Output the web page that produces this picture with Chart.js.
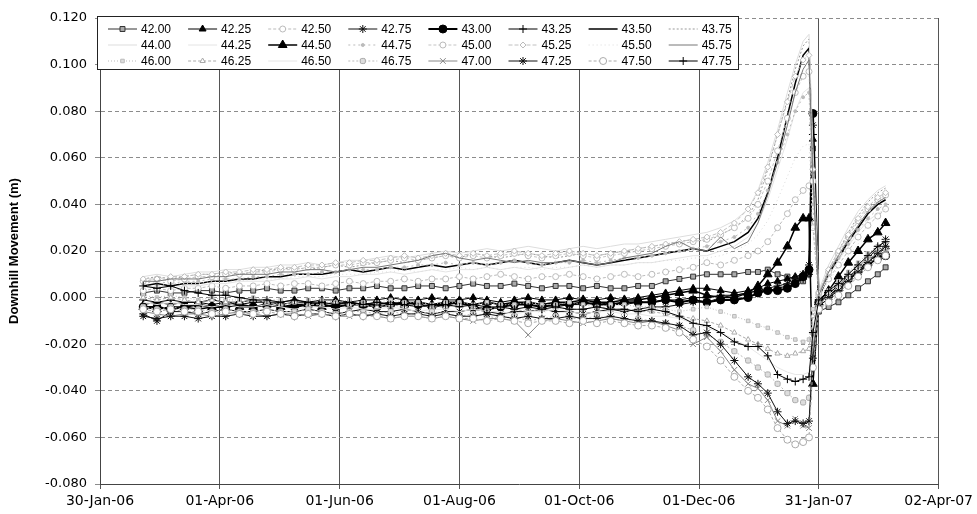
<!DOCTYPE html>
<html>
<head>
<meta charset="utf-8">
<title>Downhill Movement</title>
<script src="https://cdn.jsdelivr.net/npm/chart.js@4/dist/chart.umd.min.js"></script>
<style>
  html, body { margin: 0; padding: 0; background: #fff; }
  canvas { display: block; }
</style>
</head>
<body>
<canvas id="movementChart" width="977" height="514"></canvas>
<script>
// Survey dates (x categories)
const sampleDates = [
    '2006-02-21','2006-02-28','2006-03-07','2006-03-14','2006-03-21','2006-03-28','2006-04-04','2006-04-11','2006-04-18','2006-04-25',
    '2006-05-02','2006-05-09','2006-05-16','2006-05-23','2006-05-30','2006-06-06','2006-06-13','2006-06-20','2006-06-27','2006-07-04',
    '2006-07-11','2006-07-18','2006-07-25','2006-08-01','2006-08-08','2006-08-15','2006-08-22','2006-08-29','2006-09-05','2006-09-12',
    '2006-09-19','2006-09-26','2006-10-03','2006-10-10','2006-10-17','2006-10-24','2006-10-31','2006-11-07','2006-11-14',
    '2006-11-21','2006-11-28','2006-12-05','2006-12-12','2006-12-19','2006-12-26','2006-12-31','2007-01-05','2007-01-10','2007-01-15',
    '2007-01-19','2007-01-23','2007-01-26','2007-01-28','2007-01-31','2007-02-05','2007-02-10','2007-02-15','2007-02-20','2007-02-25',
    '2007-03-02','2007-03-06'
];

const axisStartDate = '2006-01-30';
const tickLabels = ['30-Jan-06', '01-Apr-06', '01-Jun-06', '01-Aug-06', '01-Oct-06', '01-Dec-06', '31-Jan-07', '02-Apr-07'];
const yTicks = { min: -0.08, max: 0.12, step: 0.02 };

const seriesLabels = ['42.00','42.25','42.50','42.75','43.00','43.25','43.50','43.75',
                      '44.00','44.25','44.50','44.75','45.00','45.25','45.50','45.75',
                      '46.00','46.25','46.50','46.75','47.00','47.25','47.50','47.75'];

// Downhill movement (m) per series
const s4200 = [0.002,0.003,0.002,0.002,0.003,0.003,0.002,0.003,0.003,0.004,0.003,0.003,0.004,0.004,0.003,0.004,0.004,0.005,0.004,0.004,0.005,0.005,0.004,0.005,0.006,0.005,0.005,0.006,0.005,0.004,0.005,0.005,0.004,0.005,0.004,0.004,0.005,0.005,0.007,
               0.008,0.009,0.010,0.010,0.010,0.011,0.011,0.012,0.010,0.009,0.008,0.007,0.010,0.064,-0.006,-0.004,-0.002,0.001,0.004,0.007,0.010,0.013];
const s4225 = [-0.003,-0.002,-0.003,-0.002,-0.002,-0.003,-0.002,-0.002,-0.001,-0.002,-0.002,-0.001,-0.002,-0.001,-0.001,-0.002,-0.001,-0.001,0.000,-0.001,-0.001,0.000,-0.001,-0.001,0.000,-0.001,-0.002,-0.001,0.000,-0.001,-0.001,0.000,-0.001,-0.001,0.000,-0.001,0.000,0.001,0.002,
               0.003,0.004,0.004,0.003,0.002,0.003,0.004,0.006,0.007,0.008,0.009,0.010,0.012,0.068,-0.004,0.000,0.004,0.008,0.012,0.015,0.019,0.022];
const s4250 = [0.003,0.004,0.003,0.004,0.004,0.005,0.004,0.005,0.005,0.006,0.005,0.006,0.006,0.005,0.006,0.007,0.006,0.007,0.007,0.008,0.007,0.008,0.008,0.009,0.008,0.009,0.010,0.009,0.008,0.009,0.009,0.010,0.009,0.008,0.009,0.010,0.009,0.010,0.011,
               0.012,0.013,0.015,0.014,0.016,0.018,0.020,0.024,0.030,0.036,0.042,0.046,0.048,0.030,0.001,0.008,0.014,0.020,0.026,0.031,0.035,0.038];
const s4275 = [-0.007,-0.010,-0.006,-0.006,-0.007,-0.006,-0.005,-0.006,-0.006,-0.005,-0.006,-0.006,-0.005,-0.006,-0.007,-0.006,-0.005,-0.006,-0.006,-0.005,-0.006,-0.007,-0.006,-0.006,-0.005,-0.006,-0.007,-0.006,-0.006,-0.005,-0.006,-0.006,-0.007,-0.006,-0.005,-0.006,-0.005,-0.004,-0.004,
               -0.003,-0.002,-0.002,0.000,0.001,0.002,0.003,0.004,0.005,0.006,0.008,0.010,0.014,0.074,-0.003,0.001,0.005,0.009,0.013,0.017,0.021,0.025];
const s4300 = [-0.004,-0.004,-0.005,-0.004,-0.003,-0.004,-0.004,-0.003,-0.004,-0.003,-0.004,-0.004,-0.003,-0.003,-0.004,-0.003,-0.003,-0.004,-0.003,-0.002,-0.003,-0.004,-0.003,-0.002,-0.004,-0.005,-0.004,-0.003,-0.003,-0.004,-0.003,-0.003,-0.002,-0.003,-0.003,-0.002,-0.002,-0.002,-0.001,
               -0.002,-0.001,-0.002,-0.001,-0.001,0.000,0.002,0.003,0.003,0.004,0.006,0.009,0.012,0.079,-0.002,0.001,0.004,0.008,0.011,0.014,0.017,0.018];
const s4325 = [-0.001,-0.002,-0.001,-0.002,-0.002,-0.001,-0.002,-0.003,-0.002,-0.002,-0.003,-0.002,-0.002,-0.003,-0.002,-0.002,-0.003,-0.002,-0.003,-0.002,-0.002,-0.003,-0.003,-0.002,-0.003,-0.002,-0.003,-0.003,-0.002,-0.003,-0.004,-0.003,-0.003,-0.002,-0.003,-0.003,-0.002,-0.002,-0.001,
               -0.001,0.000,0.000,0.001,0.001,0.002,0.003,0.003,0.004,0.005,0.006,0.008,0.010,0.070,-0.001,0.002,0.005,0.009,0.012,0.016,0.019,0.021];
const s4350 = [0.005,0.006,0.005,0.006,0.006,0.007,0.007,0.008,0.008,0.009,0.009,0.010,0.010,0.010,0.011,0.012,0.011,0.012,0.013,0.012,0.013,0.014,0.013,0.014,0.015,0.014,0.015,0.016,0.015,0.014,0.015,0.016,0.015,0.014,0.015,0.016,0.017,0.018,0.019,
               0.020,0.021,0.020,0.022,0.024,0.028,0.034,0.045,0.060,0.078,0.092,0.104,0.107,0.055,0.000,0.010,0.017,0.024,0.030,0.036,0.040,0.042];
const s4375 = [0.008,0.009,0.008,0.009,0.010,0.010,0.011,0.010,0.011,0.012,0.012,0.013,0.012,0.013,0.014,0.013,0.014,0.015,0.016,0.015,0.016,0.017,0.018,0.017,0.019,0.018,0.017,0.018,0.019,0.018,0.017,0.018,0.019,0.018,0.019,0.020,0.021,0.022,0.023,
               0.024,0.025,0.024,0.027,0.030,0.035,0.042,0.055,0.070,0.085,0.098,0.108,0.111,0.060,0.002,0.012,0.020,0.028,0.035,0.041,0.045,0.047];
const s4400 = [0.009,0.010,0.009,0.010,0.011,0.011,0.012,0.012,0.013,0.013,0.014,0.014,0.015,0.014,0.015,0.016,0.016,0.017,0.018,0.017,0.018,0.019,0.020,0.019,0.020,0.021,0.020,0.021,0.022,0.021,0.020,0.021,0.022,0.021,0.022,0.023,0.023,0.024,0.025,
               0.026,0.027,0.028,0.030,0.033,0.038,0.046,0.058,0.072,0.088,0.100,0.110,0.113,0.065,0.003,0.014,0.022,0.030,0.037,0.042,0.046,0.048];
const s4425 = [0.004,0.005,0.004,0.005,0.005,0.006,0.006,0.007,0.007,0.007,0.008,0.008,0.009,0.008,0.009,0.009,0.010,0.010,0.011,0.010,0.011,0.012,0.011,0.012,0.012,0.013,0.012,0.013,0.012,0.013,0.012,0.013,0.014,0.013,0.014,0.014,0.015,0.015,0.016,
               0.017,0.018,0.018,0.020,0.022,0.026,0.032,0.042,0.055,0.068,0.080,0.088,0.090,0.045,0.001,0.009,0.016,0.022,0.028,0.033,0.036,0.038];
const s4450 = [-0.004,-0.005,-0.004,-0.004,-0.005,-0.004,-0.003,-0.004,-0.004,-0.003,-0.004,-0.003,-0.003,-0.004,-0.003,-0.002,-0.003,-0.003,-0.002,-0.003,-0.002,-0.003,-0.002,-0.002,-0.003,-0.002,-0.003,-0.002,-0.002,-0.003,-0.002,-0.002,-0.001,-0.002,-0.002,-0.001,-0.001,0.000,0.001,
               0.002,0.003,0.001,0.000,0.000,0.002,0.005,0.010,0.015,0.022,0.030,0.034,0.034,-0.037,-0.002,0.003,0.009,0.015,0.020,0.025,0.028,0.032];
const s4475 = [0.006,0.007,0.006,0.007,0.007,0.008,0.008,0.008,0.009,0.009,0.010,0.010,0.010,0.011,0.011,0.012,0.012,0.012,0.013,0.013,0.014,0.014,0.015,0.014,0.015,0.014,0.015,0.016,0.015,0.014,0.015,0.015,0.016,0.015,0.016,0.017,0.017,0.018,0.019,
               0.020,0.021,0.022,0.024,0.026,0.030,0.036,0.046,0.058,0.070,0.080,0.086,0.088,0.040,0.001,0.010,0.017,0.023,0.029,0.034,0.038,0.040];
const s4500 = [0.007,0.008,0.007,0.008,0.009,0.009,0.010,0.010,0.011,0.011,0.012,0.012,0.013,0.013,0.014,0.014,0.015,0.015,0.016,0.017,0.016,0.017,0.018,0.017,0.018,0.017,0.018,0.019,0.018,0.017,0.018,0.019,0.018,0.017,0.018,0.019,0.020,0.021,0.022,
               0.023,0.024,0.025,0.027,0.030,0.034,0.040,0.050,0.063,0.077,0.088,0.095,0.097,0.050,0.002,0.011,0.019,0.026,0.033,0.038,0.042,0.044];
const s4525 = [0.008,0.008,0.009,0.009,0.010,0.010,0.011,0.011,0.012,0.012,0.013,0.013,0.014,0.014,0.015,0.015,0.016,0.016,0.017,0.018,0.017,0.018,0.019,0.018,0.019,0.018,0.019,0.020,0.019,0.018,0.019,0.020,0.019,0.018,0.019,0.020,0.021,0.022,0.023,
               0.024,0.025,0.026,0.028,0.032,0.038,0.045,0.056,0.070,0.084,0.095,0.102,0.104,0.055,0.002,0.012,0.020,0.027,0.034,0.039,0.043,0.045];
const s4550 = [0.005,0.005,0.006,0.006,0.006,0.007,0.007,0.007,0.008,0.008,0.008,0.009,0.009,0.009,0.010,0.010,0.010,0.011,0.011,0.012,0.011,0.012,0.012,0.013,0.012,0.013,0.012,0.013,0.013,0.012,0.013,0.013,0.014,0.013,0.014,0.014,0.015,0.015,0.016,
               0.016,0.017,0.017,0.018,0.020,0.023,0.027,0.033,0.042,0.052,0.060,0.065,0.066,0.030,0.000,0.007,0.013,0.018,0.023,0.027,0.030,0.032];
const s4575 = [0.007,0.007,0.008,0.008,0.008,0.009,0.009,0.010,0.010,0.010,0.011,0.011,0.012,0.012,0.011,0.012,0.013,0.013,0.014,0.015,0.016,0.018,0.019,0.017,0.016,0.017,0.016,0.015,0.016,0.015,0.015,0.016,0.015,0.014,0.015,0.017,0.018,0.019,0.022,
               0.024,0.021,0.020,0.026,0.021,0.024,0.032,0.044,0.058,0.074,0.088,0.098,0.102,0.052,0.001,0.011,0.018,0.025,0.031,0.037,0.041,0.043];
const s4600 = [0.001,0.000,0.001,0.000,-0.001,0.000,-0.001,-0.001,0.000,-0.001,-0.001,-0.002,-0.001,-0.001,-0.002,-0.001,-0.002,-0.002,-0.001,-0.002,-0.002,-0.003,-0.002,-0.002,-0.003,-0.002,-0.003,-0.003,-0.002,-0.003,-0.003,-0.002,-0.003,-0.004,-0.003,-0.003,-0.004,-0.004,-0.005,
               -0.006,-0.005,-0.004,-0.006,-0.008,-0.010,-0.012,-0.013,-0.015,-0.017,-0.018,-0.019,-0.018,-0.005,-0.001,0.003,0.007,0.011,0.015,0.019,0.022,0.024];
const s4625 = [0.000,-0.001,0.000,-0.001,-0.002,-0.001,-0.002,-0.002,-0.001,-0.002,-0.003,-0.002,-0.003,-0.003,-0.002,-0.003,-0.003,-0.004,-0.003,-0.004,-0.003,-0.004,-0.004,-0.003,-0.004,-0.005,-0.004,-0.005,-0.006,-0.005,-0.004,-0.005,-0.005,-0.004,-0.005,-0.005,-0.006,-0.006,-0.007,
               -0.008,-0.009,-0.010,-0.012,-0.015,-0.018,-0.020,-0.022,-0.024,-0.025,-0.024,-0.023,-0.022,-0.008,-0.002,0.002,0.006,0.010,0.014,0.018,0.021,0.023];
const s4650 = [-0.002,-0.003,-0.002,-0.003,-0.003,-0.004,-0.003,-0.004,-0.004,-0.003,-0.004,-0.005,-0.004,-0.004,-0.005,-0.004,-0.005,-0.005,-0.004,-0.005,-0.006,-0.005,-0.005,-0.006,-0.005,-0.006,-0.006,-0.007,-0.006,-0.006,-0.005,-0.006,-0.007,-0.006,-0.006,-0.007,-0.007,-0.008,-0.008,
               -0.009,-0.011,-0.013,-0.015,-0.018,-0.021,-0.024,-0.027,-0.030,-0.032,-0.033,-0.033,-0.032,-0.012,-0.003,0.001,0.005,0.009,0.013,0.017,0.020,0.022];
const s4675 = [-0.004,-0.005,-0.004,-0.005,-0.005,-0.006,-0.005,-0.006,-0.006,-0.005,-0.006,-0.006,-0.005,-0.006,-0.007,-0.006,-0.006,-0.007,-0.006,-0.007,-0.007,-0.006,-0.007,-0.008,-0.007,-0.008,-0.009,-0.008,-0.010,-0.009,-0.008,-0.009,-0.009,-0.008,-0.009,-0.010,-0.009,-0.010,-0.011,
               -0.012,-0.014,-0.016,-0.019,-0.023,-0.027,-0.030,-0.033,-0.037,-0.041,-0.044,-0.045,-0.043,-0.018,-0.004,0.000,0.004,0.008,0.012,0.016,0.019,0.021];
const s4700 = [-0.006,-0.007,-0.008,-0.007,-0.007,-0.008,-0.007,-0.006,-0.007,-0.008,-0.007,-0.007,-0.008,-0.007,-0.008,-0.008,-0.007,-0.008,-0.009,-0.008,-0.008,-0.009,-0.008,-0.009,-0.010,-0.009,-0.009,-0.010,-0.016,-0.010,-0.009,-0.010,-0.011,-0.010,-0.009,-0.010,-0.011,-0.010,-0.012,
               -0.014,-0.020,-0.017,-0.023,-0.031,-0.037,-0.039,-0.044,-0.053,-0.055,-0.052,-0.055,-0.056,-0.022,-0.003,-0.001,0.002,0.006,0.010,0.014,0.018,0.020];
const s4725 = [-0.008,-0.009,-0.008,-0.008,-0.009,-0.008,-0.008,-0.007,-0.008,-0.008,-0.007,-0.008,-0.007,-0.007,-0.008,-0.007,-0.008,-0.007,-0.008,-0.007,-0.007,-0.008,-0.007,-0.008,-0.008,-0.007,-0.008,-0.009,-0.008,-0.009,-0.009,-0.008,-0.009,-0.009,-0.008,-0.009,-0.010,-0.010,-0.011,
               -0.012,-0.016,-0.015,-0.020,-0.027,-0.034,-0.037,-0.041,-0.049,-0.054,-0.053,-0.054,-0.053,-0.026,-0.004,0.000,0.003,0.007,0.011,0.015,0.019,0.022];
const s4750 = [-0.005,-0.006,-0.005,-0.006,-0.006,-0.007,-0.006,-0.007,-0.007,-0.006,-0.007,-0.008,-0.007,-0.007,-0.008,-0.007,-0.008,-0.008,-0.009,-0.008,-0.008,-0.009,-0.008,-0.009,-0.009,-0.010,-0.009,-0.010,-0.011,-0.010,-0.010,-0.011,-0.010,-0.011,-0.010,-0.011,-0.012,-0.012,-0.013,
               -0.015,-0.018,-0.021,-0.027,-0.034,-0.040,-0.043,-0.048,-0.056,-0.061,-0.063,-0.062,-0.060,-0.030,-0.005,-0.002,0.001,0.005,0.009,0.013,0.016,0.018];
const s4775 = [0.005,0.004,0.005,0.003,0.002,0.001,0.001,0.000,-0.001,-0.001,-0.002,-0.001,-0.002,-0.002,-0.003,-0.002,-0.003,-0.002,-0.003,-0.003,-0.004,-0.003,-0.003,-0.004,-0.003,-0.004,-0.004,-0.005,-0.004,-0.005,-0.004,-0.005,-0.005,-0.004,-0.005,-0.005,-0.006,-0.005,-0.006,
               -0.008,-0.011,-0.012,-0.015,-0.019,-0.021,-0.021,-0.025,-0.033,-0.035,-0.036,-0.035,-0.034,-0.015,-0.001,0.003,0.006,0.010,0.014,0.018,0.022,0.024];

const seriesValues = [s4200, s4225, s4250, s4275, s4300, s4325, s4350, s4375,
                      s4400, s4425, s4450, s4475, s4500, s4525, s4550, s4575,
                      s4600, s4625, s4650, s4675, s4700, s4725, s4750, s4775];

// Line / marker look for each series (same order as seriesLabels)
const seriesStyles = [
    { color: '#333', width: 1,   dash: [],     point: 'rect',        r: 3.5, fill: '#aaa', edge: '#333' },
    { color: '#000', width: 1,   dash: [],     point: 'triangle',    r: 4,   fill: '#000', edge: '#000' },
    { color: '#bbb', width: 1,   dash: [3, 2], point: 'circle',      r: 3,   fill: '#fff', edge: '#bbb' },
    { color: '#111', width: 1,   dash: [],     point: 'star',        r: 4,   fill: '#111', edge: '#111' },
    { color: '#000', width: 2,   dash: [],     point: 'circle',      r: 4,   fill: '#000', edge: '#000' },
    { color: '#000', width: 1,   dash: [],     point: 'cross',       r: 4,   fill: '#000', edge: '#000' },
    { color: '#000', width: 1.5, dash: [],     point: 'circle',      r: 0,   fill: '#000', edge: '#000' },
    { color: '#999', width: 1,   dash: [2, 2], point: 'circle',      r: 0,   fill: '#999', edge: '#999' },
    { color: '#ddd', width: 1,   dash: [],     point: 'circle',      r: 0,   fill: '#ddd', edge: '#ddd' },
    { color: '#e4e4e4', width: 1, dash: [],    point: 'circle',      r: 0,   fill: '#e4e4e4', edge: '#e4e4e4' },
    { color: '#000', width: 1.5, dash: [],     point: 'triangle',    r: 5,   fill: '#000', edge: '#000' },
    { color: '#bbb', width: 1,   dash: [2, 3], point: 'circle',      r: 1.5, fill: '#bbb', edge: '#bbb' },
    { color: '#c4c4c4', width: 1, dash: [3, 2], point: 'circle',     r: 3,   fill: '#fff', edge: '#bbb' },
    { color: '#c0c0c0', width: 1, dash: [4, 2], point: 'rectRot',    r: 3,   fill: '#fff', edge: '#bbb' },
    { color: '#dadada', width: 1, dash: [1, 3], point: 'circle',     r: 0,   fill: '#ddd', edge: '#ddd' },
    { color: '#777', width: 1,   dash: [],     point: 'circle',      r: 0,   fill: '#777', edge: '#777' },
    { color: '#bbb', width: 1,   dash: [1, 2], point: 'rect',        r: 2.5, fill: '#ddd', edge: '#bbb' },
    { color: '#aaa', width: 1,   dash: [3, 2], point: 'triangle',    r: 3,   fill: '#fff', edge: '#aaa' },
    { color: '#e6e6e6', width: 1, dash: [],    point: 'circle',      r: 0,   fill: '#e6e6e6', edge: '#e6e6e6' },
    { color: '#bbb', width: 1,   dash: [2, 2], point: 'rectRounded', r: 3,   fill: '#ddd', edge: '#aaa' },
    { color: '#888', width: 1,   dash: [],     point: 'crossRot',    r: 4,   fill: '#888', edge: '#888' },
    { color: '#111', width: 1,   dash: [],     point: 'star',        r: 4,   fill: '#111', edge: '#111' },
    { color: '#aaa', width: 1,   dash: [3, 2], point: 'circle',      r: 3.5, fill: '#fff', edge: '#aaa' },
    { color: '#000', width: 1,   dash: [],     point: 'cross',       r: 4,   fill: '#000', edge: '#000' }
];

const DAY = 86400000;
const baseTime = Date.parse(axisStartDate);
const sampleDays = sampleDates.map(d => (Date.parse(d) - baseTime) / DAY);
const tickStepDays = (Date.parse('2006-04-01') - baseTime) / DAY; // 61

// Legend drawn inside the plot, 8 columns x 3 rows like the Excel original
const insideLegend = {
    id: 'insideLegend',
    afterDatasetsDraw(chart) {
        const { ctx, chartArea } = chart;
        const boxX = chartArea.left - 3, boxY = chartArea.top - 2;
        const boxW = 641, boxH = 53, colW = 80.1, rowH = 16;
        ctx.save();
        ctx.setLineDash([]);
        ctx.fillStyle = '#fff';
        ctx.fillRect(boxX, boxY, boxW, boxH);
        ctx.strokeStyle = '#222';
        ctx.lineWidth = 1;
        ctx.strokeRect(boxX + 0.5, boxY + 0.5, boxW, boxH);

        chart.data.datasets.forEach((ds, i) => {
            const col = i % 8, row = Math.floor(i / 8);
            const x = boxX + 11 + col * colW;
            const y = boxY + 13 + row * rowH;

            ctx.setLineDash(ds.borderDash || []);
            ctx.strokeStyle = ds.borderColor;
            ctx.lineWidth = ds.borderWidth;
            ctx.beginPath();
            ctx.moveTo(x, y);
            ctx.lineTo(x + 29, y);
            ctx.stroke();

            if (ds.pointRadius > 0 && Chart.helpers && Chart.helpers.drawPoint) {
                ctx.setLineDash([]);
                ctx.fillStyle = ds.pointBackgroundColor;
                ctx.strokeStyle = ds.pointBorderColor;
                ctx.lineWidth = 1;
                Chart.helpers.drawPoint(ctx, {
                    pointStyle: ds.pointStyle, rotation: 0, radius: ds.pointRadius, borderWidth: 1
                }, x + 14.5, y);
            }

            ctx.fillStyle = '#000';
            ctx.font = '12px "Liberation Sans", Arial, sans-serif';
            ctx.textBaseline = 'middle';
            ctx.textAlign = 'left';
            ctx.fillText(ds.label, x + 33, y + 0.5);
        });
        ctx.restore();
    }
};

function buildDatasets() {
    return seriesLabels.map((label, i) => {
        const st = seriesStyles[i];
        return {
            label: label,
            data: seriesValues[i].map((v, k) => ({ x: sampleDays[k], y: v })),
            borderColor: st.color,
            borderWidth: st.width,
            borderDash: st.dash,
            pointStyle: st.point,
            pointRadius: st.r,
            pointBackgroundColor: st.fill,
            pointBorderColor: st.edge,
            pointBorderWidth: 1,
            tension: 0,
            fill: false,
            order: -i
        };
    });
}

function initMovementChart() {
    const ctx = document.getElementById('movementChart');
    if (!ctx) return;
    new Chart(ctx.getContext('2d'), {
        type: 'line',
        data: { datasets: buildDatasets() },
        options: {
            responsive: false,
            animation: false,
            devicePixelRatio: 1,
            events: [],
            layout: { padding: { top: 18, right: 35, bottom: 0, left: 0 } },
            plugins: { legend: { display: false }, tooltip: { enabled: false } },
            scales: {
                x: {
                    type: 'linear',
                    min: 0,
                    max: tickStepDays * (tickLabels.length - 1),
                    grid: { color: '#555', lineWidth: 1, tickLength: 5 },
                    border: { color: '#444' },
                    ticks: {
                        stepSize: tickStepDays,
                        autoSkip: false,
                        maxRotation: 0,
                        padding: 4,
                        color: '#000',
                        font: { family: '"DejaVu Sans", sans-serif', size: 14 },
                        callback: v => tickLabels[Math.round(v / tickStepDays)]
                    },
                    afterFit: s => { s.height = 30; }
                },
                y: {
                    min: yTicks.min,
                    max: yTicks.max,
                    grid: { color: '#8c8c8c', lineWidth: 1, tickLength: 5 },
                    border: { color: '#444', dash: [4, 3] },
                    ticks: {
                        stepSize: yTicks.step,
                        padding: 8,
                        color: '#000',
                        font: { family: '"DejaVu Sans", sans-serif', size: 13 },
                        callback: v => (Math.abs(v) < 1e-9 ? 0 : v).toFixed(3)
                    },
                    title: {
                        display: true,
                        text: 'Downhill Movement (m)',
                        color: '#000',
                        font: { family: '"Liberation Sans", Arial, sans-serif', size: 13, weight: 'bold' },
                        padding: { top: 7, bottom: 0 }
                    },
                    afterFit: s => { s.width = 100; }
                }
            }
        },
        plugins: [insideLegend]
    });
}

document.addEventListener('DOMContentLoaded', initMovementChart);
</script>
</body>
</html>
